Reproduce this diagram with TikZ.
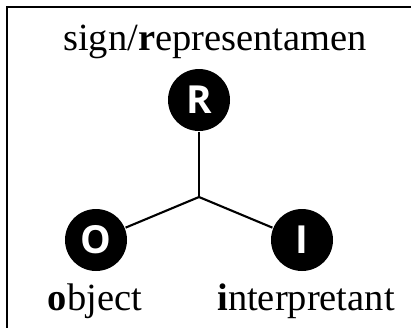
\documentclass[tikz,border=0pt]{standalone}
\usepackage{fontspec}
\setmainfont{Liberation Serif}
\newfontfamily\dotfont{Open Sans}
\definecolor{DotClr}{rgb}{0,0,0}

\begin{document}
\begin{tikzpicture}[line width=1.2pt,
  dot/.style={circle,fill=DotClr,text=white,inner sep=0pt,minimum size=1.24cm,
    font=\dotfont\bfseries\fontsize{22}{22}\selectfont},
  lbl/.style={anchor=base,inner sep=0pt,font=\fontsize{21.9}{26}\selectfont}]
\useasboundingbox (0,0) rectangle (8.22,6.54);
\clip (0,0) rectangle (8.22,6.54);

% frame
\draw[line width=1.3pt] (0.14,-1) -- (0.14,6.40) -- (9,6.40);

% the three corners
\coordinate (M) at (3.98,2.60);
\node[dot] (R) at (3.98,4.54) {R};
\node[dot] (O) at (1.92,1.74) {O};
\node[dot] (I) at (6.04,1.74) {I};

\draw (R) -- (M);
\draw (M) -- (O);
\draw (M) -- (I);

% names
\node[lbl] (sgn) at (4.30,5.54) {sign/\textbf{r}epresentamen};
\node[lbl] (obj) at (1.90,0.34) {\textbf{o}bject};
\node[lbl] (int) at (6.12,0.34) {\textbf{i}nterpretant};

\end{tikzpicture}
\end{document}
